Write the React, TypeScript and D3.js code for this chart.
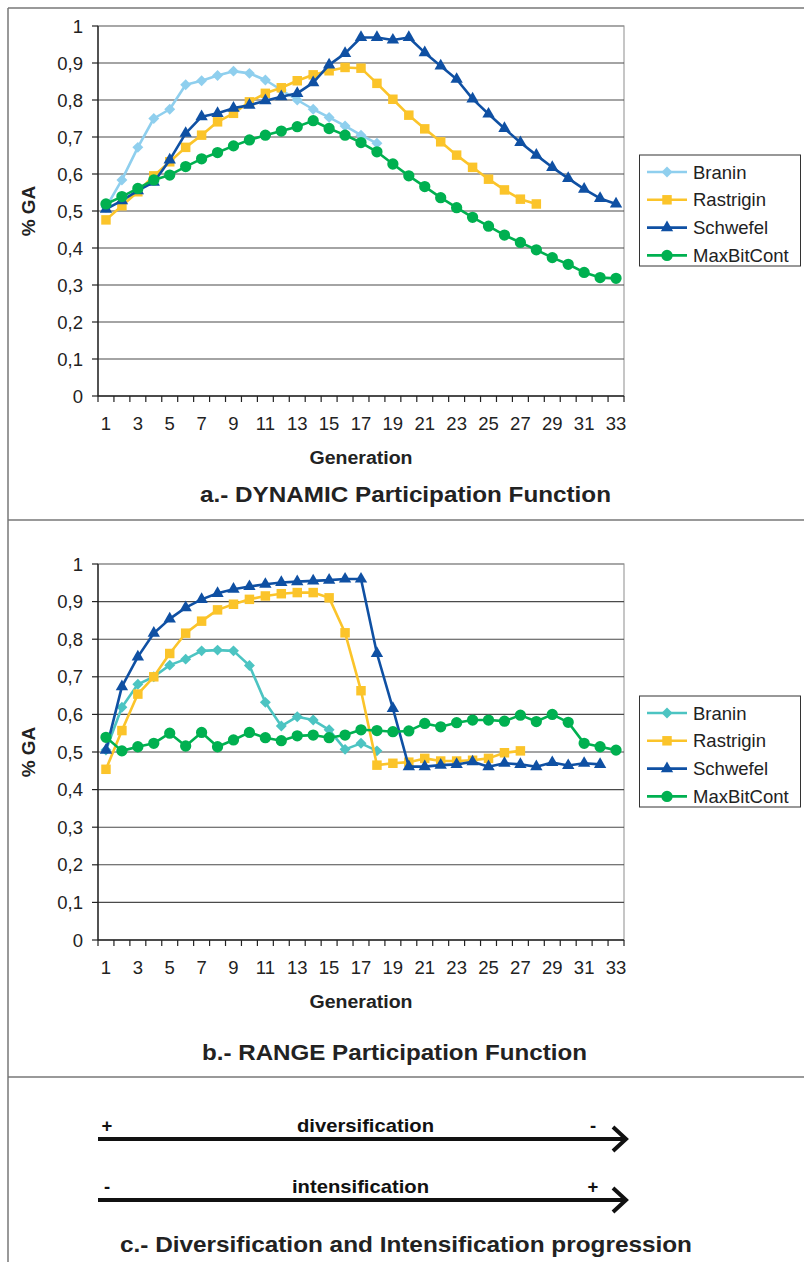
import React from "react";
import * as d3 from "d3";

const generations: number[] = d3.range(1, 34);
const yTicks: number[] = [0, 0.1, 0.2, 0.3, 0.4, 0.5, 0.6, 0.7, 0.8, 0.9, 1];
const seriesNames: string[] = ["Branin", "Rastrigin", "Schwefel", "MaxBitCont"];

// a.- DYNAMIC Participation Function
const dynBranin: number[] = [0.51, 0.584, 0.672, 0.750, 0.775, 0.841, 0.852, 0.866, 0.878, 0.872, 0.854, 0.827, 0.80, 0.775, 0.753, 0.730, 0.705, 0.683];
const dynRastrigin: number[] = [0.476, 0.514, 0.552, 0.595, 0.633, 0.672, 0.705, 0.741, 0.764, 0.795, 0.818, 0.833, 0.852, 0.868, 0.879, 0.888, 0.886, 0.845, 0.802, 0.759, 0.722, 0.687, 0.651, 0.618, 0.586, 0.557, 0.532, 0.519];
const dynSchwefel: number[] = [0.505, 0.528, 0.555, 0.578, 0.638, 0.710, 0.755, 0.764, 0.778, 0.786, 0.798, 0.809, 0.818, 0.847, 0.895, 0.926, 0.969, 0.969, 0.962, 0.969, 0.928, 0.892, 0.856, 0.803, 0.762, 0.723, 0.685, 0.651, 0.618, 0.588, 0.559, 0.534, 0.519];
const dynMaxBitCont: number[] = [0.519, 0.539, 0.561, 0.584, 0.597, 0.620, 0.641, 0.658, 0.676, 0.692, 0.705, 0.716, 0.728, 0.744, 0.723, 0.705, 0.685, 0.660, 0.627, 0.595, 0.566, 0.536, 0.509, 0.483, 0.459, 0.435, 0.415, 0.395, 0.374, 0.356, 0.334, 0.320, 0.318];

// b.- RANGE Participation Function
const rngBranin: number[] = [0.505, 0.619, 0.680, 0.700, 0.731, 0.747, 0.769, 0.771, 0.769, 0.730, 0.632, 0.569, 0.594, 0.585, 0.559, 0.507, 0.523, 0.503];
const rngRastrigin: number[] = [0.454, 0.557, 0.654, 0.700, 0.762, 0.816, 0.848, 0.878, 0.893, 0.906, 0.915, 0.921, 0.924, 0.924, 0.910, 0.817, 0.663, 0.465, 0.470, 0.473, 0.483, 0.476, 0.476, 0.478, 0.483, 0.498, 0.503];
const rngSchwefel: number[] = [0.505, 0.674, 0.753, 0.816, 0.854, 0.884, 0.906, 0.922, 0.933, 0.940, 0.946, 0.951, 0.953, 0.955, 0.957, 0.960, 0.960, 0.762, 0.616, 0.461, 0.461, 0.465, 0.467, 0.474, 0.461, 0.470, 0.467, 0.461, 0.472, 0.464, 0.470, 0.467];
const rngMaxBitCont: number[] = [0.539, 0.503, 0.514, 0.523, 0.550, 0.516, 0.552, 0.514, 0.532, 0.552, 0.538, 0.530, 0.543, 0.545, 0.538, 0.545, 0.559, 0.557, 0.554, 0.556, 0.576, 0.567, 0.578, 0.585, 0.585, 0.582, 0.598, 0.581, 0.600, 0.579, 0.523, 0.514, 0.505];

const FONT = "'Liberation Sans', Arial, Helvetica, sans-serif";

type Marker = "diamond" | "square" | "triangle" | "circle";
interface Series { name: string; values: number[]; color: string; marker: Marker; }

function markerPath(m: Marker): string {
  if (m === "diamond") return d3.symbol().type(d3.symbolSquare).size(60)()!;
  if (m === "square") return d3.symbol().type(d3.symbolSquare).size(90)()!;
  if (m === "triangle") return d3.symbol().type(d3.symbolTriangle).size(66)()!;
  return d3.symbol().type(d3.symbolCircle).size(100)()!;
}

interface ChartProps {
  top: number; bottom: number; series: Series[];
  legendTop: number; title: string; titleW: number; titleY: number; titleX: number;
}

function Chart({ top, bottom, series, legendTop, title, titleW, titleY, titleX }: ChartProps) {
  const left = 98, right = 624;
  const x = d3.scaleBand<number>().domain(generations).range([left, right]).padding(0);
  const y = d3.scaleLinear().domain([0, 1]).range([bottom, top]);
  const cx = (i: number) => (x(generations[i]) as number) + x.bandwidth() / 2;
  const line = d3.line<number>().x((_, i) => cx(i)).y((v) => y(v));
  const boundaries = d3.range(0, generations.length + 1).map((i) => left + i * x.bandwidth());
  const legendRow = 27.8;
  return (
    <g>
      <rect x={left} y={top} width={right - left} height={bottom - top} fill="none" stroke="#a0a0a0" strokeWidth={1.2} />
      {yTicks.filter((t) => t > 0 && t < 1).map((t) => (
        <line key={t} x1={left} x2={right} y1={y(t)} y2={y(t)} stroke="#4a4a4a" strokeWidth={1.1} />
      ))}
      <line x1={left} x2={right} y1={y(1)} y2={y(1)} stroke="#8a8a8a" strokeWidth={1.1} />
      <line x1={left} x2={left} y1={top} y2={bottom} stroke="#222" strokeWidth={1.4} />
      <line x1={left} x2={right} y1={bottom} y2={bottom} stroke="#222" strokeWidth={1.4} />
      {yTicks.map((t) => (
        <g key={"yt" + t}>
          <line x1={left - 6} x2={left} y1={y(t)} y2={y(t)} stroke="#222" strokeWidth={1.2} />
          <text x={83} y={y(t)} dy="0.36em" textAnchor="end" fontFamily={FONT} fontSize={18.5} fill="#222">
            {String(t).replace(".", ",")}
          </text>
        </g>
      ))}
      {boundaries.map((bx, i) => (
        <line key={"xt" + i} x1={bx} x2={bx} y1={bottom} y2={bottom + 6} stroke="#222" strokeWidth={1.2} />
      ))}
      {generations.filter((g) => g % 2 === 1).map((g) => (
        <text key={"xl" + g} x={(x(g) as number) + x.bandwidth() / 2} y={bottom + 34} textAnchor="middle" fontFamily={FONT} fontSize={18.5} fill="#222">
          {g}
        </text>
      ))}
      <text x={361} y={bottom + 68} textAnchor="middle" fontFamily={FONT} fontWeight="bold" fontSize={18} fill="#222" textLength={103} lengthAdjust="spacingAndGlyphs">
        Generation
      </text>
      <text transform={`translate(35,${(top + bottom) / 2}) rotate(-90)`} textAnchor="middle" fontFamily={FONT} fontWeight="bold" fontSize={19} fill="#222">
        % GA
      </text>
      {series.map((s) => (
        <g key={s.name}>
          <path d={line(s.values) || ""} fill="none" stroke={s.color} strokeWidth={2.6} strokeLinejoin="round" />
          {s.values.map((v, i) => (
            <path key={i} d={markerPath(s.marker)} transform={`translate(${cx(i)},${y(v)})${s.marker === "diamond" ? " rotate(45)" : ""}`} fill={s.color} />
          ))}
        </g>
      ))}
      <rect x={639.5} y={legendTop} width={161} height={111} fill="#fff" stroke="#333" strokeWidth={1} />
      {series.map((s, i) => {
        const ly = legendTop + 17 + i * legendRow;
        return (
          <g key={"lg" + s.name}>
            <line x1={647} x2={687} y1={ly} y2={ly} stroke={s.color} strokeWidth={2.6} />
            <path d={markerPath(s.marker)} transform={`translate(667,${ly})${s.marker === "diamond" ? " rotate(45)" : ""}`} fill={s.color} />
            <text x={693} y={ly} dy="0.36em" fontFamily={FONT} fontSize={18.5} fill="#222">{s.name}</text>
          </g>
        );
      })}
      <text x={titleX} y={titleY} fontFamily={FONT} fontWeight="bold" fontSize={21.5} fill="#222" textLength={titleW} lengthAdjust="spacingAndGlyphs">
        {title}
      </text>
    </g>
  );
}

function Arrow({ y, leftSign, rightSign, label, labelX, labelW }: { y: number; leftSign: string; rightSign: string; label: string; labelX: number; labelW: number }) {
  return (
    <g>
      <line x1={98} x2={624} y1={y} y2={y} stroke="#111" strokeWidth={4} />
      <polyline points={`${613},${y - 12} ${626},${y} ${613},${y + 12}`} fill="none" stroke="#111" strokeWidth={4} />
      <text x={107} y={y - 7} textAnchor="middle" fontFamily={FONT} fontWeight="bold" fontSize={18.5} fill="#111">{leftSign}</text>
      <text x={593} y={y - 7} textAnchor="middle" fontFamily={FONT} fontWeight="bold" fontSize={18.5} fill="#111">{rightSign}</text>
      <text x={labelX} y={y - 7} fontFamily={FONT} fontWeight="bold" fontSize={19} fill="#111" textLength={labelW} lengthAdjust="spacingAndGlyphs">{label}</text>
    </g>
  );
}

export default function App() {
  const colorsA = ["#8fcfee", "#fbc42a", "#0f50a3", "#00b050"];
  const colorsB = ["#4cc4c2", "#fbc42a", "#0f50a3", "#00b050"];
  const markers: Marker[] = ["diamond", "square", "triangle", "circle"];
  const dyn = [dynBranin, dynRastrigin, dynSchwefel, dynMaxBitCont];
  const rng = [rngBranin, rngRastrigin, rngSchwefel, rngMaxBitCont];
  const seriesA: Series[] = seriesNames.map((n, i) => ({ name: n, values: dyn[i], color: colorsA[i], marker: markers[i] }));
  const seriesB: Series[] = seriesNames.map((n, i) => ({ name: n, values: rng[i], color: colorsB[i], marker: markers[i] }));
  return (
    <svg width={804} height={1262} style={{ position: "absolute", left: 0, top: 0, background: "#fff" }}>
      <rect x={0} y={0} width={804} height={1262} fill="#fff" />
      <line x1={8} x2={804} y1={8} y2={8} stroke="#777" strokeWidth={1.5} />
      <line x1={8} x2={8} y1={8} y2={1262} stroke="#777" strokeWidth={1.5} />
      <line x1={8} x2={804} y1={520} y2={520} stroke="#777" strokeWidth={1.5} />
      <line x1={8} x2={804} y1={1077} y2={1077} stroke="#777" strokeWidth={1.5} />
      <Chart top={26} bottom={396} series={seriesA} legendTop={155} title="a.- DYNAMIC Participation Function" titleW={411} titleY={502} titleX={200} />
      <Chart top={564} bottom={940} series={seriesB} legendTop={696} title="b.- RANGE Participation Function" titleW={385} titleY={1060} titleX={202} />
      <Arrow y={1139} leftSign="+" rightSign="-" label="diversification" labelX={297} labelW={137} />
      <Arrow y={1200} leftSign="-" rightSign="+" label="intensification" labelX={292} labelW={137} />
      <text x={120} y={1252} fontFamily={FONT} fontWeight="bold" fontSize={22} fill="#222" textLength={572} lengthAdjust="spacingAndGlyphs">
        c.- Diversification and Intensification progression
      </text>
    </svg>
  );
}
